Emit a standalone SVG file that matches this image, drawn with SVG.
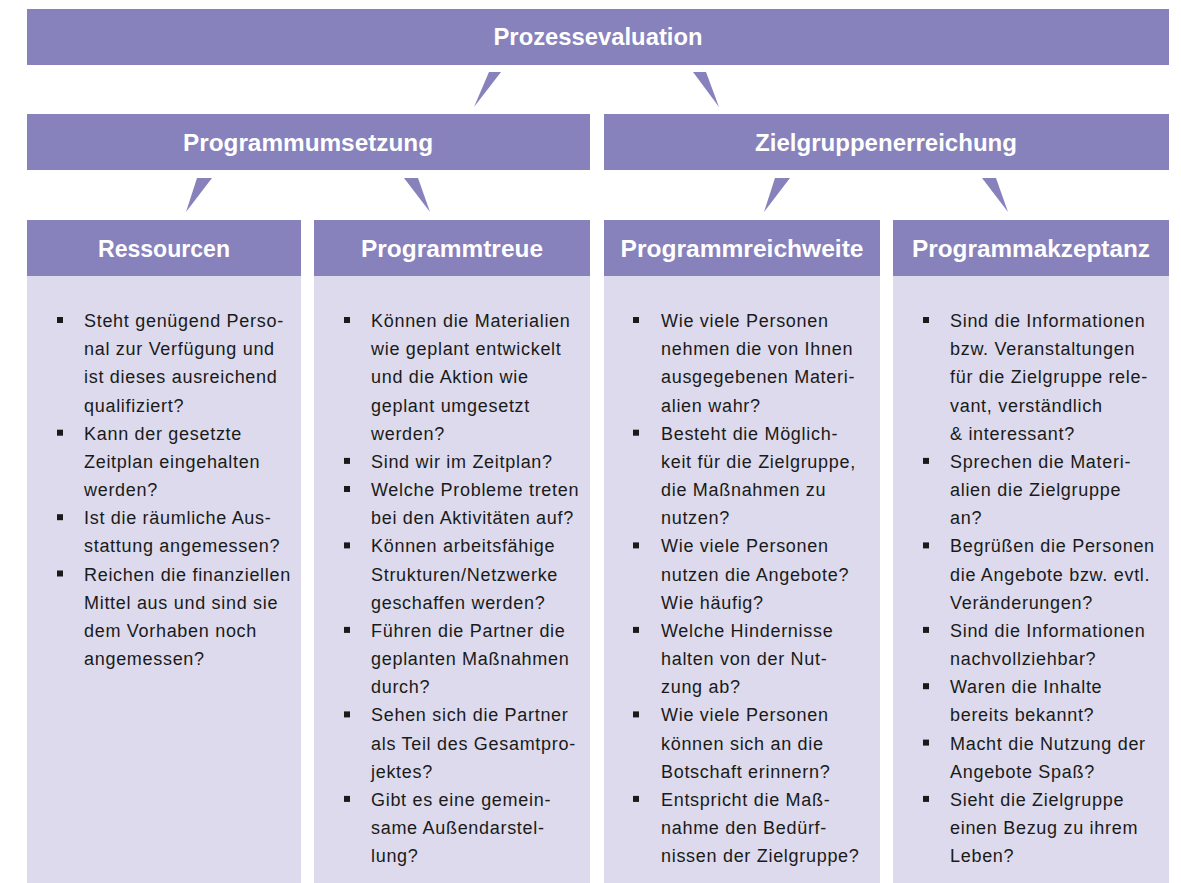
<svg xmlns="http://www.w3.org/2000/svg" xmlns:xlink="http://www.w3.org/1999/xlink" width="1181" height="883" viewBox="0 0 1181 883">
<style>
.hd{fill:#8781bc}
.bd{fill:#dcdaec}
.tri{fill:#8781bc}
.ht{font-family:"Liberation Sans",Arial,sans-serif;font-weight:bold;font-size:23.5px;fill:#ffffff;text-anchor:middle}
.tx{font-family:"Liberation Sans",Arial,sans-serif;font-size:18px;fill:#1a1a1a;letter-spacing:0.7px}
.bl{fill:#1a1a1a}
</style>
<defs>
<rect id="b" class="bl" x="0" y="-10" width="6" height="6"/>
</defs>
<rect x="0" y="0" width="1181" height="883" fill="#ffffff"/>
<g id="connectors">
<polygon class="tri" points="489,72 501,72 474,107"/>
<polygon class="tri" points="693,72 706,72 719,107"/>
<polygon class="tri" points="197,178 212,178 186,212"/>
<polygon class="tri" points="404,178 418,178 430,212"/>
<polygon class="tri" points="775,178 790,178 764,212"/>
<polygon class="tri" points="982,178 996,178 1008,212"/>
</g>
<g id="prozessevaluation">
<rect class="hd" x="27" y="9" width="1142" height="56"/>
<text class="ht" x="598" y="44.5" textLength="209" lengthAdjust="spacingAndGlyphs">Prozessevaluation</text>
</g>
<g id="programmumsetzung">
<rect class="hd" x="27" y="114" width="563" height="56"/>
<text class="ht" x="308" y="150.5" textLength="250" lengthAdjust="spacingAndGlyphs">Programmumsetzung</text>
</g>
<g id="zielgruppenerreichung">
<rect class="hd" x="604" y="114" width="565" height="56"/>
<text class="ht" x="886" y="150.5" textLength="262" lengthAdjust="spacingAndGlyphs">Zielgruppenerreichung</text>
</g>
<g id="ressourcen">
<rect class="hd" x="27" y="220" width="274" height="56"/>
<rect class="bd" x="27" y="276" width="274" height="607"/>
<text class="ht" x="164" y="256.5" textLength="132" lengthAdjust="spacingAndGlyphs">Ressourcen</text>
<use xlink:href="#b" x="57" y="327"/>
<use xlink:href="#b" x="57" y="439.7"/>
<use xlink:href="#b" x="57" y="524.2"/>
<use xlink:href="#b" x="57" y="580.5"/>
<text class="tx">
<tspan x="84" y="327">Steht genügend Perso-</tspan>
<tspan x="84" y="355.2">nal zur Verfügung und</tspan>
<tspan x="84" y="383.3">ist dieses ausreichend</tspan>
<tspan x="84" y="411.5">qualifiziert?</tspan>
<tspan x="84" y="439.7">Kann der gesetzte</tspan>
<tspan x="84" y="467.9">Zeitplan eingehalten</tspan>
<tspan x="84" y="496">werden?</tspan>
<tspan x="84" y="524.2">Ist die räumliche Aus-</tspan>
<tspan x="84" y="552.4">stattung angemessen?</tspan>
<tspan x="84" y="580.5">Reichen die finanziellen</tspan>
<tspan x="84" y="608.7">Mittel aus und sind sie</tspan>
<tspan x="84" y="636.9">dem Vorhaben noch</tspan>
<tspan x="84" y="665">angemessen?</tspan>
</text>
</g>
<g id="programmtreue">
<rect class="hd" x="314" y="220" width="276" height="56"/>
<rect class="bd" x="314" y="276" width="276" height="607"/>
<text class="ht" x="452" y="256.5" textLength="182" lengthAdjust="spacingAndGlyphs">Programmtreue</text>
<use xlink:href="#b" x="344" y="327"/>
<use xlink:href="#b" x="344" y="467.9"/>
<use xlink:href="#b" x="344" y="496"/>
<use xlink:href="#b" x="344" y="552.4"/>
<use xlink:href="#b" x="344" y="636.9"/>
<use xlink:href="#b" x="344" y="721.4"/>
<use xlink:href="#b" x="344" y="805.9"/>
<text class="tx">
<tspan x="371" y="327">Können die Materialien</tspan>
<tspan x="371" y="355.2">wie geplant entwickelt</tspan>
<tspan x="371" y="383.3">und die Aktion wie</tspan>
<tspan x="371" y="411.5">geplant umgesetzt</tspan>
<tspan x="371" y="439.7">werden?</tspan>
<tspan x="371" y="467.9">Sind wir im Zeitplan?</tspan>
<tspan x="371" y="496">Welche Probleme treten</tspan>
<tspan x="371" y="524.2">bei den Aktivitäten auf?</tspan>
<tspan x="371" y="552.4">Können arbeitsfähige</tspan>
<tspan x="371" y="580.5">Strukturen/Netzwerke</tspan>
<tspan x="371" y="608.7">geschaffen werden?</tspan>
<tspan x="371" y="636.9">Führen die Partner die</tspan>
<tspan x="371" y="665">geplanten Maßnahmen</tspan>
<tspan x="371" y="693.2">durch?</tspan>
<tspan x="371" y="721.4">Sehen sich die Partner</tspan>
<tspan x="371" y="749.6">als Teil des Gesamtpro-</tspan>
<tspan x="371" y="777.7">jektes?</tspan>
<tspan x="371" y="805.9">Gibt es eine gemein-</tspan>
<tspan x="371" y="834.1">same Außendarstel-</tspan>
<tspan x="371" y="862.2">lung?</tspan>
</text>
</g>
<g id="programmreichweite">
<rect class="hd" x="604" y="220" width="276" height="56"/>
<rect class="bd" x="604" y="276" width="276" height="607"/>
<text class="ht" x="742" y="256.5" textLength="243" lengthAdjust="spacingAndGlyphs">Programmreichweite</text>
<use xlink:href="#b" x="633" y="327"/>
<use xlink:href="#b" x="633" y="439.7"/>
<use xlink:href="#b" x="633" y="552.4"/>
<use xlink:href="#b" x="633" y="636.9"/>
<use xlink:href="#b" x="633" y="721.4"/>
<use xlink:href="#b" x="633" y="805.9"/>
<text class="tx">
<tspan x="661" y="327">Wie viele Personen</tspan>
<tspan x="661" y="355.2">nehmen die von Ihnen</tspan>
<tspan x="661" y="383.3">ausgegebenen Materi-</tspan>
<tspan x="661" y="411.5">alien wahr?</tspan>
<tspan x="661" y="439.7">Besteht die Möglich-</tspan>
<tspan x="661" y="467.9">keit für die Zielgruppe,</tspan>
<tspan x="661" y="496">die Maßnahmen zu</tspan>
<tspan x="661" y="524.2">nutzen?</tspan>
<tspan x="661" y="552.4">Wie viele Personen</tspan>
<tspan x="661" y="580.5">nutzen die Angebote?</tspan>
<tspan x="661" y="608.7">Wie häufig?</tspan>
<tspan x="661" y="636.9">Welche Hindernisse</tspan>
<tspan x="661" y="665">halten von der Nut-</tspan>
<tspan x="661" y="693.2">zung ab?</tspan>
<tspan x="661" y="721.4">Wie viele Personen</tspan>
<tspan x="661" y="749.6">können sich an die</tspan>
<tspan x="661" y="777.7">Botschaft erinnern?</tspan>
<tspan x="661" y="805.9">Entspricht die Maß-</tspan>
<tspan x="661" y="834.1">nahme den Bedürf-</tspan>
<tspan x="661" y="862.2">nissen der Zielgruppe?</tspan>
</text>
</g>
<g id="programmakzeptanz">
<rect class="hd" x="893" y="220" width="276" height="56"/>
<rect class="bd" x="893" y="276" width="276" height="607"/>
<text class="ht" x="1031" y="256.5" textLength="238" lengthAdjust="spacingAndGlyphs">Programmakzeptanz</text>
<use xlink:href="#b" x="923" y="327"/>
<use xlink:href="#b" x="923" y="467.9"/>
<use xlink:href="#b" x="923" y="552.4"/>
<use xlink:href="#b" x="923" y="636.9"/>
<use xlink:href="#b" x="923" y="693.2"/>
<use xlink:href="#b" x="923" y="749.6"/>
<use xlink:href="#b" x="923" y="805.9"/>
<text class="tx">
<tspan x="950" y="327">Sind die Informationen</tspan>
<tspan x="950" y="355.2">bzw. Veranstaltungen</tspan>
<tspan x="950" y="383.3">für die Zielgruppe rele-</tspan>
<tspan x="950" y="411.5">vant, verständlich</tspan>
<tspan x="950" y="439.7">&amp; interessant?</tspan>
<tspan x="950" y="467.9">Sprechen die Materi-</tspan>
<tspan x="950" y="496">alien die Zielgruppe</tspan>
<tspan x="950" y="524.2">an?</tspan>
<tspan x="950" y="552.4">Begrüßen die Personen</tspan>
<tspan x="950" y="580.5">die Angebote bzw. evtl.</tspan>
<tspan x="950" y="608.7">Veränderungen?</tspan>
<tspan x="950" y="636.9">Sind die Informationen</tspan>
<tspan x="950" y="665">nachvollziehbar?</tspan>
<tspan x="950" y="693.2">Waren die Inhalte</tspan>
<tspan x="950" y="721.4">bereits bekannt?</tspan>
<tspan x="950" y="749.6">Macht die Nutzung der</tspan>
<tspan x="950" y="777.7">Angebote Spaß?</tspan>
<tspan x="950" y="805.9">Sieht die Zielgruppe</tspan>
<tspan x="950" y="834.1">einen Bezug zu ihrem</tspan>
<tspan x="950" y="862.2">Leben?</tspan>
</text>
</g>
</svg>
